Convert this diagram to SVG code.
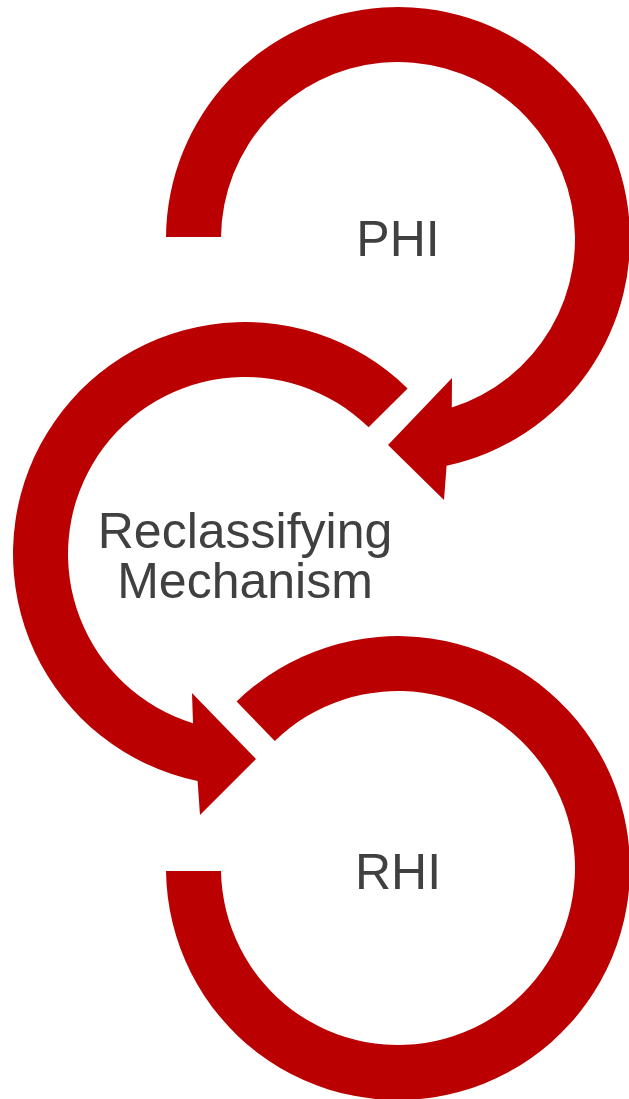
<svg xmlns="http://www.w3.org/2000/svg" width="629" height="1099" viewBox="0 0 629 1099">
<style>
.arc{fill:#BA0000;stroke:none}
.lbl{font-family:"Liberation Sans",Arial,sans-serif;font-size:50px;fill:#404040;text-anchor:middle}
</style>
<rect width="629" height="1099" fill="#FFFFFF"/>
<g id="node-phi">
<path class="arc" d="M 166 237 A 232 232 0 1 1 446.6 465.8 L 444 500 L 388 445 L 452 378 L 451.8 407.6 A 177 177 0 1 0 221 237 Z"/>
<text class="lbl" x="398" y="256">PHI</text>
</g>
<g id="node-reclassifying">
<path class="arc" d="M 407.6 388.5 A 232 232 0 1 0 197.6 781.1 L 200 815 L 256 759 L 192 693 L 193 723.2 A 177 177 0 1 1 368.6 427.3 Z"/>
<text class="lbl" x="245" y="548">Reclassifying</text>
<text class="lbl" x="245" y="598">Mechanism</text>
</g>
<g id="node-rhi">
<path class="arc" d="M 236.6 701.4 A 232 232 0 1 1 166 871 L 221 871 A 177 177 0 1 0 274.8 740.9 Z"/>
<text class="lbl" x="398" y="889">RHI</text>
</g>
<g id="connectors"></g>
</svg>
